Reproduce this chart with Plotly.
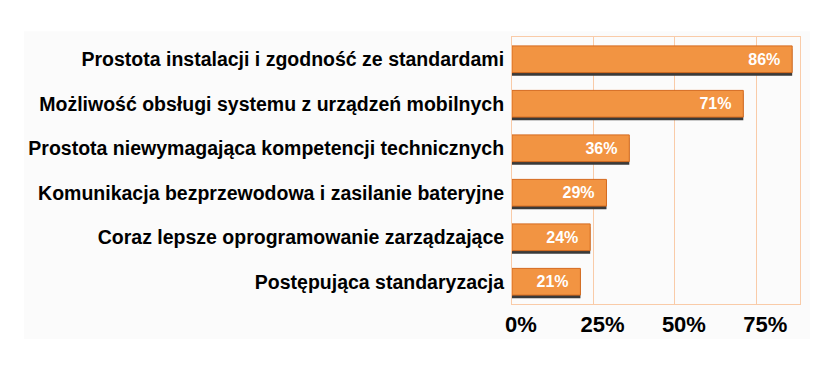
import plotly.graph_objects as go

categories = [
    "Prostota instalacji i zgodność ze standardami",
    "Możliwość obsługi systemu z urządzeń mobilnych",
    "Prostota niewymagająca kompetencji technicznych",
    "Komunikacja bezprzewodowa i zasilanie bateryjne",
    "Coraz lepsze oprogramowanie zarządzające",
    "Postępująca standaryzacja",
]
values = [86, 71, 36, 29, 24, 21]
tick_vals = [0, 25, 50, 75]
tick_text = ["0%", "25%", "50%", "75%"]

fig = go.Figure()
# shadow
fig.add_trace(go.Bar(
    y=categories, x=values, orientation="h",
    width=0.6, offset=-0.3 + 0.07,
    marker=dict(color="#3a3a3a", line=dict(width=0)),
    hoverinfo="skip", showlegend=False,
))
fig.add_trace(go.Bar(
    y=categories, x=values, orientation="h",
    width=0.6, offset=-0.3,
    marker=dict(color="#F29442", line=dict(color="#D56A1E", width=1)),
    text=[f"{v}%" for v in values],
    texttemplate="%{text}  ",
    textposition="inside", insidetextanchor="end",
    textfont=dict(family="Liberation Sans, Arial", size=16, color="white", weight="bold"),
    showlegend=False,
))

fig.update_layout(
    barmode="overlay",
    width=832, height=365,
    margin=dict(l=504, r=40, t=29, b=69),
    paper_bgcolor="white", plot_bgcolor="white",
    font=dict(family="Liberation Sans, Arial", color="black"),
    xaxis=dict(
        range=[0, 88.4], tickvals=tick_vals, ticktext=tick_text,
        showgrid=True, gridcolor="#F9CBA8", gridwidth=1,
        zeroline=False, showline=True, linecolor="#F9CBA8", mirror=True,
        tickfont=dict(size=22, color="black", weight="bold"),
        ticks="", ticklabelshift=9, ticklabelstandoff=1,
    ),
    yaxis=dict(
        autorange="reversed",
        showline=True, linecolor="#F9CBA8", mirror=True,
        showgrid=False,
        tickfont=dict(size=19.5, color="black", weight="bold"),
        ticks="", ticklabelstandoff=3,
    ),
    shapes=[dict(type="rect", xref="paper", yref="paper", x0=-1.694, x1=1.035, y0=-0.131, y1=1.022,
                 fillcolor="#FBFBFB", line=dict(width=0), layer="below")],
)

fig.write_html("out.html")
